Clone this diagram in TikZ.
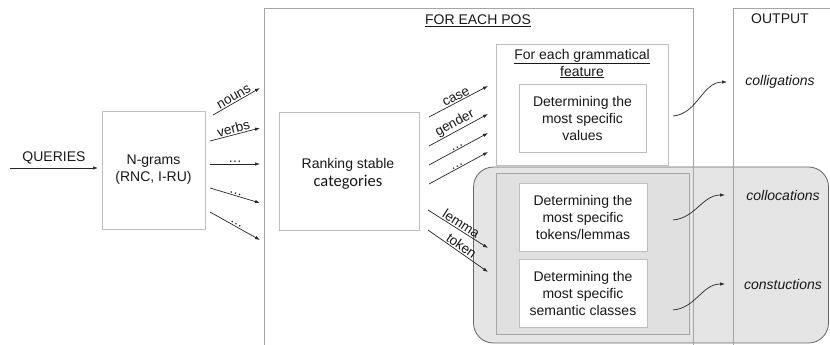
\documentclass[tikz,border=0pt]{standalone}
\usepackage{fontspec}
\setmainfont{Liberation Sans}
\newfontfamily\carl{Carlito}
\usetikzlibrary{arrows.meta}
\begin{document}
\begin{tikzpicture}[x=1pt,y=-1pt,
  frame/.style={draw=black!35, line width=0.8pt},
  box/.style={draw=black!25, line width=0.8pt, fill=white, align=center, inner sep=0pt, text=black!90, font=\fontsize{14}{17}\selectfont},
  arr/.style={draw=black!85, line width=0.7pt, -{Latex[length=5pt,width=3.5pt]}},
  lbl/.style={font=\fontsize{13.5}{15}\selectfont, sloped, above, inner sep=1pt, text=black!90},
  txt/.style={font=\fontsize{14}{17}\selectfont, align=center, text=black!90, inner sep=0pt},
  outtxt/.style={font=\itshape\fontsize{14}{17}\selectfont, text=black!90, inner sep=0pt},
]
\useasboundingbox (0,0) rectangle (830,345);
% highlight region
\node[draw=black!60, fill=black!10, line width=0.8pt, rounded corners=20pt, minimum width=355pt, minimum height=176pt, inner sep=0pt] (hl) at (651,255) {};
% frames
\coordinate (posbl) at (264,350);
\coordinate (postl) at (264,8);
\coordinate (postr) at (693,8);
\coordinate (posbr) at (693,350);
\draw[frame] (posbl) -- (postl) -- (postr) -- (posbr);
\coordinate (outbl) at (733,350);
\coordinate (outtl) at (733,8);
\coordinate (outtr) at (832,8);
\draw[frame] (outbl) -- (outtl) -- (outtr);
\node[txt] (postitle) at (478,21) {\underline{FOR EACH POS}};
\node[txt] (outtitle) at (780,19) {OUTPUT};
% inner grey box
\node[draw=black!35, fill=black!12, line width=0.8pt, minimum width=193pt, minimum height=161pt, inner sep=0pt] (inner) at (592.5,253.5) {};
% boxes
\node[box, minimum width=103pt, minimum height=118pt] (ng) at (153.5,170) {N-grams\\(RNC, I-RU)};
\node[box, minimum width=140pt, minimum height=118pt] (rank) at (349,171) {};
\node[txt] (rankt) at (348,174) {Ranking stable\\[1pt]{\carl\fontsize{16.5}{20}\selectfont categories}};
\node[box, minimum width=172pt, minimum height=121pt] (gf) at (582,104.5) {};
\node[txt] (gft) at (582,63.5) {\underline{For each grammatical}\\\underline{feature}};
\node[box, minimum width=127pt, minimum height=68pt] (vals) at (582.5,118) {Determining the\\most specific\\values};
\node[box, minimum width=128pt, minimum height=68pt] (tok) at (583,217) {Determining the\\most specific\\tokens/lemmas};
\node[box, minimum width=128pt, minimum height=68pt] (sem) at (583,293) {Determining the\\most specific\\semantic classes};
% outputs
\node[outtxt] (colig) at (780,82) {colligations};
\node[outtxt] (coloc) at (783,195) {collocations};
\node[outtxt] (cons) at (783,284) {constuctions};
% queries
\coordinate (q0) at (10,168);
\coordinate (q1) at (98,168);
\draw[arr] (q0) -- node[above=4pt, txt] {QUERIES} (q1);
% n-gram arrows
\coordinate (a1s) at (213,115); \coordinate (a1e) at (260,88);
\coordinate (a2s) at (210,141); \coordinate (a2e) at (260,128);
\coordinate (a3s) at (210,164); \coordinate (a3e) at (260,164);
\coordinate (a4s) at (210,188); \coordinate (a4e) at (260,203);
\coordinate (a5s) at (210,212); \coordinate (a5e) at (260,240);
\draw[arr] (a1s) -- node[lbl] {nouns} (a1e);
\draw[arr] (a2s) -- node[lbl] {verbs} (a2e);
\draw[arr] (a3s) -- node[lbl] {…} (a3e);
\draw[arr] (a4s) -- node[lbl] {…} (a4e);
\draw[arr] (a5s) -- node[lbl] {…} (a5e);
% ranking arrows
\coordinate (b1s) at (429,117); \coordinate (b1e) at (488,86);
\coordinate (b2s) at (429,146); \coordinate (b2e) at (488,114);
\coordinate (b3s) at (429,165); \coordinate (b3e) at (488,133);
\coordinate (b4s) at (429,184); \coordinate (b4e) at (488,152);
\coordinate (b5s) at (428,210); \coordinate (b5e) at (488,248);
\coordinate (b6s) at (428,230); \coordinate (b6e) at (488,272);
\draw[arr] (b1s) -- node[lbl] {case} (b1e);
\draw[arr] (b2s) -- node[lbl] {gender} (b2e);
\draw[arr] (b3s) -- node[lbl] {…} (b3e);
\draw[arr] (b4s) -- node[lbl] {…} (b4e);
\draw[arr] (b5s) -- node[lbl] {lemma} (b5e);
\draw[arr] (b6s) -- node[lbl] {token} (b6e);
% output curves
\coordinate (c1s) at (673,116); \coordinate (c1e) at (727,82);
\coordinate (c2s) at (673,220); \coordinate (c2e) at (725,195);
\coordinate (c3s) at (673,310); \coordinate (c3e) at (725,284);
\draw[arr] (c1s) to[out=5,in=180] (c1e);
\draw[arr] (c2s) to[out=5,in=180] (c2e);
\draw[arr] (c3s) to[out=5,in=180] (c3e);
\end{tikzpicture}
\end{document}
